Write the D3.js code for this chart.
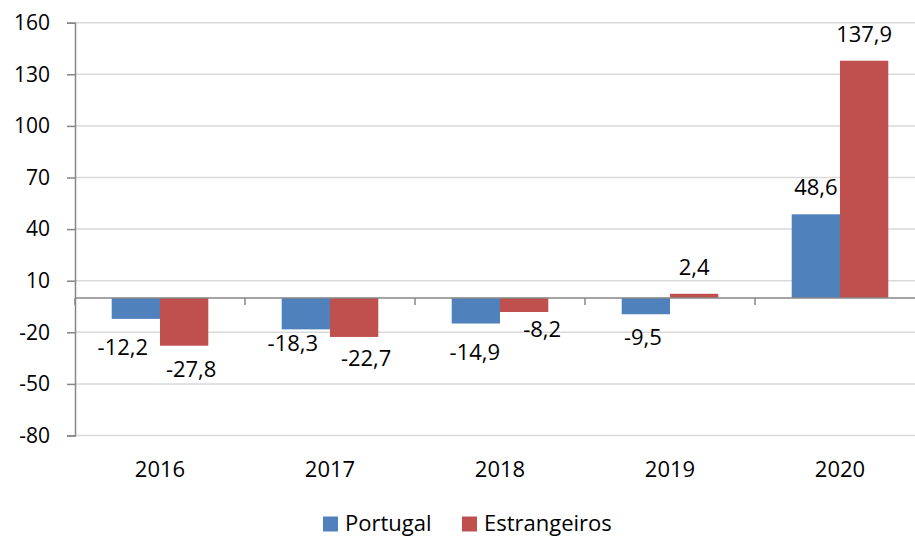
<!DOCTYPE html>
<html>
<head>
<meta charset="utf-8">
<script src="https://cdn.jsdelivr.net/npm/d3@7"></script>
<style>
  html, body { margin: 0; padding: 0; background: #fff; }
  svg { display: block; }
  text { font-family: "Open Sans", "Noto Sans", sans-serif; fill: #000; }
</style>
</head>
<body>
<svg id="chart" width="915" height="537"></svg>
<script>
// ---- data ----
const years = ["2016", "2017", "2018", "2019", "2020"];
const seriesNames = ["Portugal", "Estrangeiros"];
const portugal = [-12.2, -18.3, -14.9, -9.5, 48.6];
const estrangeiros = [-27.8, -22.7, -8.2, 2.4, 137.9];
const yTicks = [-80, -50, -20, 10, 40, 70, 100, 130, 160];

// ---- label nudges (layout only) [dx, dy] per series/year ----
const nudgePortugal = [[-13, 6], [-13, -8], [-1, 6], [-3, 1], [0, 0]];
const nudgeEstrangeiros = [[7, 1], [12, -1], [18, -5], [0, 0], [0, 0]];

const colors = { "Portugal": "#4F81BD", "Estrangeiros": "#C0504D" };

const svg = d3.select("#chart");
const plotLeft = 75, plotRight = 925, plotTop = 22.7, plotBottom = 435.5;

const x0 = d3.scaleBand().domain(years).range([plotLeft, plotRight]).padding(0);
const x1 = d3.scaleBand().domain(seriesNames).range([0, x0.bandwidth()])
  .paddingInner(0).paddingOuter(0.76);
const y = d3.scaleLinear().domain([-80, 160]).range([plotBottom, plotTop]);

// gridlines
svg.append("g").selectAll("line").data(yTicks).join("line")
  .attr("x1", plotLeft).attr("x2", 915)
  .attr("y1", d => y(d)).attr("y2", d => y(d))
  .attr("stroke", "#D9D9D9").attr("stroke-width", 1.5);

// y axis
const yAxis = d3.axisLeft(y).tickValues(yTicks).tickSize(8).tickPadding(17)
  .tickFormat(d => String(d));
const gy = svg.append("g").attr("transform", `translate(${plotLeft},0)`).call(yAxis);
gy.select(".domain").attr("stroke", "#868686").attr("stroke-width", 1.5);
gy.selectAll(".tick line").attr("stroke", "#868686").attr("stroke-width", 1.5);
gy.selectAll(".tick text").attr("font-size", 21).attr("font-family", "Open Sans")
  .attr("fill", "#000");

// data table
const rows = years.map((yr, i) => ({
  year: yr,
  values: [
    { name: "Portugal", value: portugal[i], nudge: nudgePortugal[i] },
    { name: "Estrangeiros", value: estrangeiros[i], nudge: nudgeEstrangeiros[i] }
  ]
}));

const groups = svg.append("g").selectAll("g").data(rows).join("g")
  .attr("transform", d => `translate(${x0(d.year)},0)`);

groups.selectAll("rect").data(d => d.values).join("rect")
  .attr("x", d => x1(d.name))
  .attr("width", x1.bandwidth())
  .attr("y", d => y(Math.max(0, d.value)))
  .attr("height", d => Math.abs(y(d.value) - y(0)))
  .attr("fill", d => colors[d.name]);

// category axis at zero
const xAxisG = svg.append("g").attr("transform", `translate(0,${y(0)})`);
xAxisG.append("line").attr("x1", plotLeft).attr("x2", 915).attr("y1", 0).attr("y2", 0)
  .attr("stroke", "#868686").attr("stroke-width", 1.5);
xAxisG.selectAll("line.tk").data(years.concat(["end"])).join("line")
  .attr("class", "tk")
  .attr("x1", (d, i) => plotLeft + i * x0.step()).attr("x2", (d, i) => plotLeft + i * x0.step())
  .attr("y1", 0).attr("y2", 7)
  .attr("stroke", "#868686").attr("stroke-width", 1.5);

// year labels at bottom
svg.append("g").selectAll("text").data(years).join("text")
  .attr("x", d => x0(d) + x0.bandwidth() / 2)
  .attr("y", 476.7)
  .attr("text-anchor", "middle")
  .attr("font-size", 22)
  .text(d => d);

// value labels
const fmt = v => String(v).replace(".", ",");
groups.selectAll("text.val").data(d => d.values).join("text")
  .attr("class", "val")
  .attr("text-anchor", "middle")
  .attr("font-size", 22)
  .attr("x", d => x1(d.name) + x1.bandwidth() / 2 + d.nudge[0])
  .attr("y", d => d.value >= 0 ? y(d.value) - 19 : y(d.value) + 30 + d.nudge[1])
  .text(d => fmt(d.value));

// legend
const legend = svg.append("g");
const legendItems = [
  { name: "Portugal", sx: 323, tx: 345 },
  { name: "Estrangeiros", sx: 462, tx: 484 }
];
legend.selectAll("rect").data(legendItems).join("rect")
  .attr("x", d => d.sx).attr("y", 516.5).attr("width", 15).attr("height", 15)
  .attr("fill", d => colors[d.name]);
legend.selectAll("text").data(legendItems).join("text")
  .attr("x", d => d.tx).attr("y", 530.5)
  .attr("font-size", 22)
  .text(d => d.name);
</script>
</body>
</html>
